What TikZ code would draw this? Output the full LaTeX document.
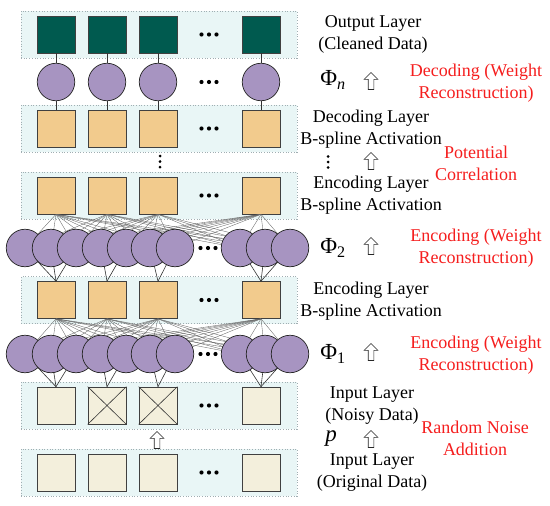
\documentclass[tikz,border=0pt]{standalone}
\usepackage{fontspec}
\setmainfont{Liberation Serif}
\definecolor{tealsq}{HTML}{005A4F}
\definecolor{lav}{HTML}{A794C1}
\definecolor{sand}{HTML}{F2CB8D}
\definecolor{beige}{HTML}{F3EFDC}
\definecolor{bandfill}{HTML}{E9F6F6}
\definecolor{bandline}{HTML}{A0AEB2}
\definecolor{redtxt}{HTML}{F51E1E}
\begin{document}
\begin{tikzpicture}[x=1pt,y=-1pt,
  band/.style={draw=bandline, fill=bandfill, dotted, line width=0.7pt, minimum width=276pt, minimum height=47pt, inner sep=0pt},
  sq/.style={draw=black!75, line width=0.6pt, minimum width=38pt, minimum height=37pt, inner sep=0pt},
  neuron/.style={circle, draw=black!85, fill=lav, line width=0.7pt, minimum size=37.5pt, inner sep=0pt},
  link/.style={draw=black!80, line width=0.6pt},
  dense/.style={draw=black!60, line width=0.35pt},
  lbl/.style={align=center, inner sep=0pt, font=\fontsize{18}{22}\selectfont},
  rlbl/.style={align=center, inner sep=0pt, text=redtxt, font=\fontsize{18}{22}\selectfont},
  philbl/.style={inner sep=0pt, font=\fontsize{23}{23}\selectfont},
  hollowup/.pic={\draw[draw=black!85, fill=white, line width=0.6pt, line join=miter]
      (0,-8.5) -- (6.8,-1.7) -- (2.8,-1.7) -- (2.8,8.5) -- (-2.8,8.5) -- (-2.8,-1.7) -- (-6.8,-1.7) -- cycle;},
  rowdots/.pic={\foreach \dx in {-7.5,0,7.5} \fill[black] (\dx,0) circle (2.1);},
  coldots/.pic={\foreach \dy in {-5.5,0,5.5} \fill[black] (0,\dy) circle (1.5);}
]
\useasboundingbox (0,0) rectangle (550,506);

% ---------- bands ----------
\node[band] (b1) at (159,34.5) {};
\node[band] (b2) at (159,128.5) {};
\node[band] (b3) at (159,195.5) {};
\node[band] (b4) at (159,300) {};
\node[band] (b5) at (159,405.5) {};
\node[band] (b6) at (159,472.5) {};

% ---------- squares ----------
\foreach \i/\x in {1/56,2/107,3/158,4/261} {
  \node[sq, fill=tealsq] (o\i) at (\x,34.5) {};
  \node[sq, fill=sand] (d\i) at (\x,128.5) {};
  \node[sq, fill=sand] (e\i) at (\x,195.5) {};
  \node[sq, fill=sand] (f\i) at (\x,300) {};
  \node[sq, fill=beige] (g\i) at (\x,405.5) {};
  \node[sq, fill=beige] (h\i) at (\x,472.5) {};
}
\draw[link] (g2.north west) -- (g2.south east) (g2.north east) -- (g2.south west);
\draw[link] (g3.north west) -- (g3.south east) (g3.north east) -- (g3.south west);

% row dots
\pic (od) at (209,34.5) {rowdots};
\pic (nd) at (209,82) {rowdots};
\pic (dd) at (209,128.5) {rowdots};
\pic (ed) at (209,195.5) {rowdots};
\pic (fd) at (209,300) {rowdots};
\pic (gd) at (209,405.5) {rowdots};
\pic (hd) at (209,472.5) {rowdots};
\pic (vd) at (160,161.5) {coldots};

% ---------- Phi_n row ----------
\foreach \i/\x in {1/56,2/107,3/158,4/261} {
  \node[neuron] (n\i) at (\x,82) {};
  \draw[link] (o\i) -- (n\i);
  \draw[link] (n\i) -- (d\i);
}

% ---------- circle coordinates ----------
\foreach \k/\x in {1/25,2/51,3/76,4/101,5/126,6/150,7/175,8/240,9/265,10/290} {
  \coordinate (p\k) at (\x,248);
  \coordinate (q\k) at (\x,354);
}

% dense links
\foreach \s in {1,2,3,4} {
  \foreach \k in {1,...,10} {
    \draw[dense] (e\s.south) -- (p\k);
    \draw[dense] (f\s.south) -- (q\k);
  }
}
% grouped links
\foreach \k/\s in {1/1,2/1,3/1,4/2,5/2,6/3,7/3,8/4,9/4,10/4} {
  \draw[link] (p\k) -- (f\s.north);
  \draw[link] (q\k) -- (g\s.north);
}
% circles
\foreach \k in {1,...,10} {
  \node[neuron] (P\k) at (p\k) {};
  \node[neuron] (Q\k) at (q\k) {};
}
\pic (pd2) at (208,248) {rowdots};
\pic (pd1) at (208,354) {rowdots};

% arrow between input bands
\pic (ain) at (157,440) {hollowup};

% ---------- right labels ----------
\node[lbl] (t1) at (373,34) {Output Layer\\(Cleaned Data)};
\node[lbl] (t2) at (371,129) {Decoding Layer\\B-spline Activation};
\node[lbl] (t3) at (371,195) {Encoding Layer\\B-spline Activation};
\node[lbl] (t4) at (371,301) {Encoding Layer\\B-spline Activation};
\node[lbl] (t5) at (372,406) {Input Layer\\(Noisy Data)};
\node[lbl] (t6) at (372,473) {Input Layer\\(Original Data)};

\node[philbl] (phn) at (333,80) {Φ\textsubscript{\textit{n}}};
\pic (phd) at (328,162) {coldots};
\node[philbl] (ph2) at (333,248) {Φ\textsubscript{2}};
\node[philbl] (ph1) at (333,354) {Φ\textsubscript{1}};
\node[philbl] (php) at (331,439) {\textit{p}};

\pic (a1) at (371,81) {hollowup};
\pic (a2) at (371,161) {hollowup};
\pic (a3) at (371,246) {hollowup};
\pic (a4) at (371,352) {hollowup};
\pic (a5) at (371,439) {hollowup};

\node[rlbl] (r1) at (476,83) {Decoding (Weight\\Reconstruction)};
\node[rlbl] (r2) at (476,163) {Potential\\Correlation};
\node[rlbl] (r3) at (476,248) {Encoding (Weight\\Reconstruction)};
\node[rlbl] (r4) at (476,355) {Encoding (Weight\\Reconstruction)};
\node[rlbl] (r5) at (475,438) {Random Noise\\Addition};
\end{tikzpicture}
\end{document}
